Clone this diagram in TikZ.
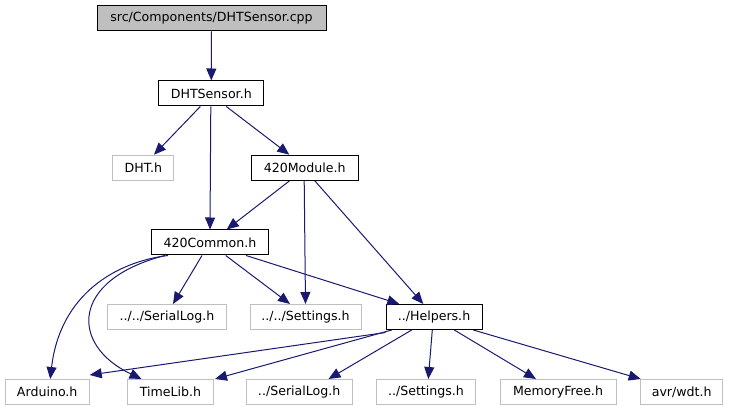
\documentclass[tikz,border=0pt]{standalone}
\usepackage{fontspec}
\setmainfont{DejaVu Sans}
\usetikzlibrary{arrows.meta}
\definecolor{edgeblue}{HTML}{191970}
\definecolor{boxgray}{HTML}{BFBFBF}
\tikzset{
  hfile/.style={draw=black, line width=1pt, minimum height=25pt, inner sep=0pt, fill=white},
  sysfile/.style={hfile, draw=boxgray},
  dep/.style={draw=edgeblue, line width=1pt, -{Triangle[length=12pt,width=10pt]}, fill=none}
}
\begin{document}
\begin{tikzpicture}[x=1pt, y=-1pt, font=\fontsize{12.6}{15}\selectfont]
\useasboundingbox (0,0) rectangle (729,411);

% Source file and its header
\node[hfile, fill=boxgray, minimum width=229pt] (cpp) at (211.5,18.5) {src/Components/DHTSensor.cpp};
\node[hfile, minimum width=105pt] (dhts) at (211.3,93.5) {DHTSensor.h};

% Second level
\node[sysfile, minimum width=61pt] (dht) at (143.3,167.7) {DHT.h};
\node[hfile, minimum width=107pt] (module) at (304.7,167.7) {420Module.h};
\node[hfile, minimum width=117pt] (common) at (210,242.5) {420Common.h};

% Third level
\node[sysfile, minimum width=119pt] (serlogA) at (167,317) {../../SerialLog.h};
\node[sysfile, minimum width=111pt] (settA) at (305.5,317) {../../Settings.h};
\node[hfile, minimum width=96pt] (helpers) at (434,317) {../Helpers.h};

% Bottom row
\node[sysfile, minimum width=84pt] (arduino) at (47.2,392) {Arduino.h};
\node[sysfile, minimum width=86pt] (timelib) at (170.5,392) {TimeLib.h};
\node[sysfile, minimum width=106pt] (serlogB) at (299.2,392) {../SerialLog.h};
\node[sysfile, minimum width=99pt] (settB) at (426,392) {../Settings.h};
\node[sysfile, minimum width=116pt] (memfree) at (558,392) {MemoryFree.h};
\node[sysfile, minimum width=82pt] (wdt) at (681.7,392) {avr/wdt.h};

% Includes of the upper files
\draw[dep] (cpp.south) -- (dhts.north);
\draw[dep] ([xshift=-11pt]dhts.south) -- ([xshift=10.7pt]dht.north);
\draw[dep] ([xshift=15pt]dhts.south) -- ([xshift=-15.4pt]module.north);
\draw[dep] ([xshift=-0.5pt]dhts.south) -- (common.north);
\draw[dep] ([xshift=-15pt]module.south) -- ([xshift=16.7pt]common.north);
\draw[dep] ([xshift=-0.5pt]module.south) -- (settA.north);
\draw[dep] ([xshift=10pt]module.south) -- ([xshift=-10.7pt]helpers.north);

% Includes of 420Common.h
\draw[dep] ([xshift=-8pt]common.south) -- ([xshift=6pt]serlogA.north);
\draw[dep] ([xshift=15.7pt]common.south) -- ([xshift=-15.5pt]settA.north);
\draw[dep] ([xshift=36pt]common.south) -- ([xshift=-34.7pt]helpers.north);
\draw[dep] ([xshift=-42pt]common.south) .. controls (115,262) and (60,295) .. ([xshift=3pt]arduino.north);
\draw[dep] ([xshift=-45pt]common.south) .. controls (70,280) and (70,345) .. ([xshift=-29pt]timelib.north);

% Includes of ../Helpers.h
\draw[dep] ([yshift=-2.5pt]helpers.south west) -- ([yshift=4pt]arduino.north east);
\draw[dep] ([xshift=-42.3pt]helpers.south) -- ([xshift=1pt]timelib.north east);
\foreach \dst/\s/\e in {serlogB/-22.3/29.3, settB/-1.7/2.3, memfree/20.3/-22, wdt/39.3/-41}
  \draw[dep] ([xshift=\s pt]helpers.south) -- ([xshift=\e pt]\dst.north);

\end{tikzpicture}
\end{document}
